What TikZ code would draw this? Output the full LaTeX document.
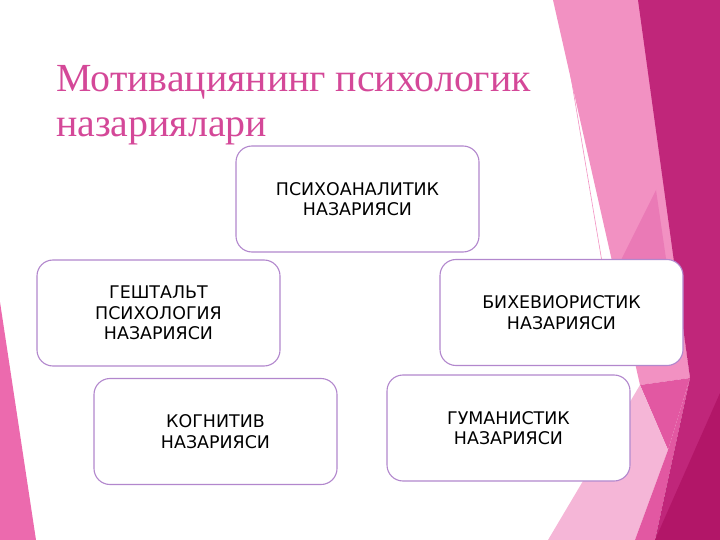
\documentclass[tikz,border=0pt]{standalone}
\usepackage{fontspec}
\usepackage{xcolor}
\usepackage{tikz}

\newfontfamily\boxfont{DejaVu Sans}
\newfontfamily\titlefont{Liberation Serif}

\definecolor{titlepink}{RGB}{212,72,152}
\definecolor{boxline}{RGB}{178,135,205}
\definecolor{darkmag}{RGB}{192,38,122}
\definecolor{deepmag}{RGB}{178,22,104}
\definecolor{lightpink}{RGB}{242,145,194}
\definecolor{softpink}{RGB}{234,122,182}
\definecolor{midpink}{RGB}{226,88,162}
\definecolor{palepink}{RGB}{245,182,215}
\definecolor{leftpink}{RGB}{236,106,174}

\begin{document}
\begin{tikzpicture}[x=1bp, y=-1bp,
    theory/.style={rectangle, draw=boxline, line width=1.1bp, fill=white, rounded corners=16bp,
        minimum width=243bp, minimum height=106bp, align=center,
        font=\boxfont\fontsize{17.5}{20.5}\selectfont},
    heading/.style={anchor=base west, inner sep=0pt, text=titlepink,
        font=\titlefont\fontsize{40}{45}\selectfont}
]

\useasboundingbox (0,0) rectangle (720,540);

% background facets
\fill[lightpink] (553,0) -- (640,0) -- (690,378) -- (640,385) -- cycle;
\fill[softpink] (656,190) -- (672,300) -- (640,330) -- (620,262) -- cycle;
\fill[midpink] (640,385) -- (690,378) -- (668,450) -- cycle;
\fill[palepink] (548,540) -- (635,540) -- (668,450) -- (640,385) -- cycle;
\fill[midpink] (635,540) -- (655,540) -- (690,378) -- (668,450) -- cycle;
\fill[darkmag] (638,0) -- (720,0) -- (720,540) -- (655,540) -- (690,378) -- cycle;
\fill[deepmag] (720,393) -- (720,540) -- (655,540) -- cycle;
\draw[lightpink, line width=0.6bp] (558,0) -- (602,262);
\fill[leftpink] (0,302) -- (36,540) -- (0,540) -- cycle;

% title
\node[heading] (title1) at (56,92) {Мотивациянинг психологик};
\node[heading] (title2) at (56,137) {назариялари};

% theories
\node[theory] (psycho) at (357.5,199) {ПСИХОАНАЛИТИК\\НАЗАРИЯСИ};
\node[theory] (gestalt) at (158.5,313) {ГЕШТАЛЬТ\\ПСИХОЛОГИЯ\\НАЗАРИЯСИ};
\node[theory] (behav) at (561.5,312.5) {БИХЕВИОРИСТИК\\НАЗАРИЯСИ};
\node[theory] (cognit) at (215.5,431.5) {КОГНИТИВ\\НАЗАРИЯСИ};
\node[theory] (human) at (508.5,428) {ГУМАНИСТИК\\НАЗАРИЯСИ};

\end{tikzpicture}
\end{document}
